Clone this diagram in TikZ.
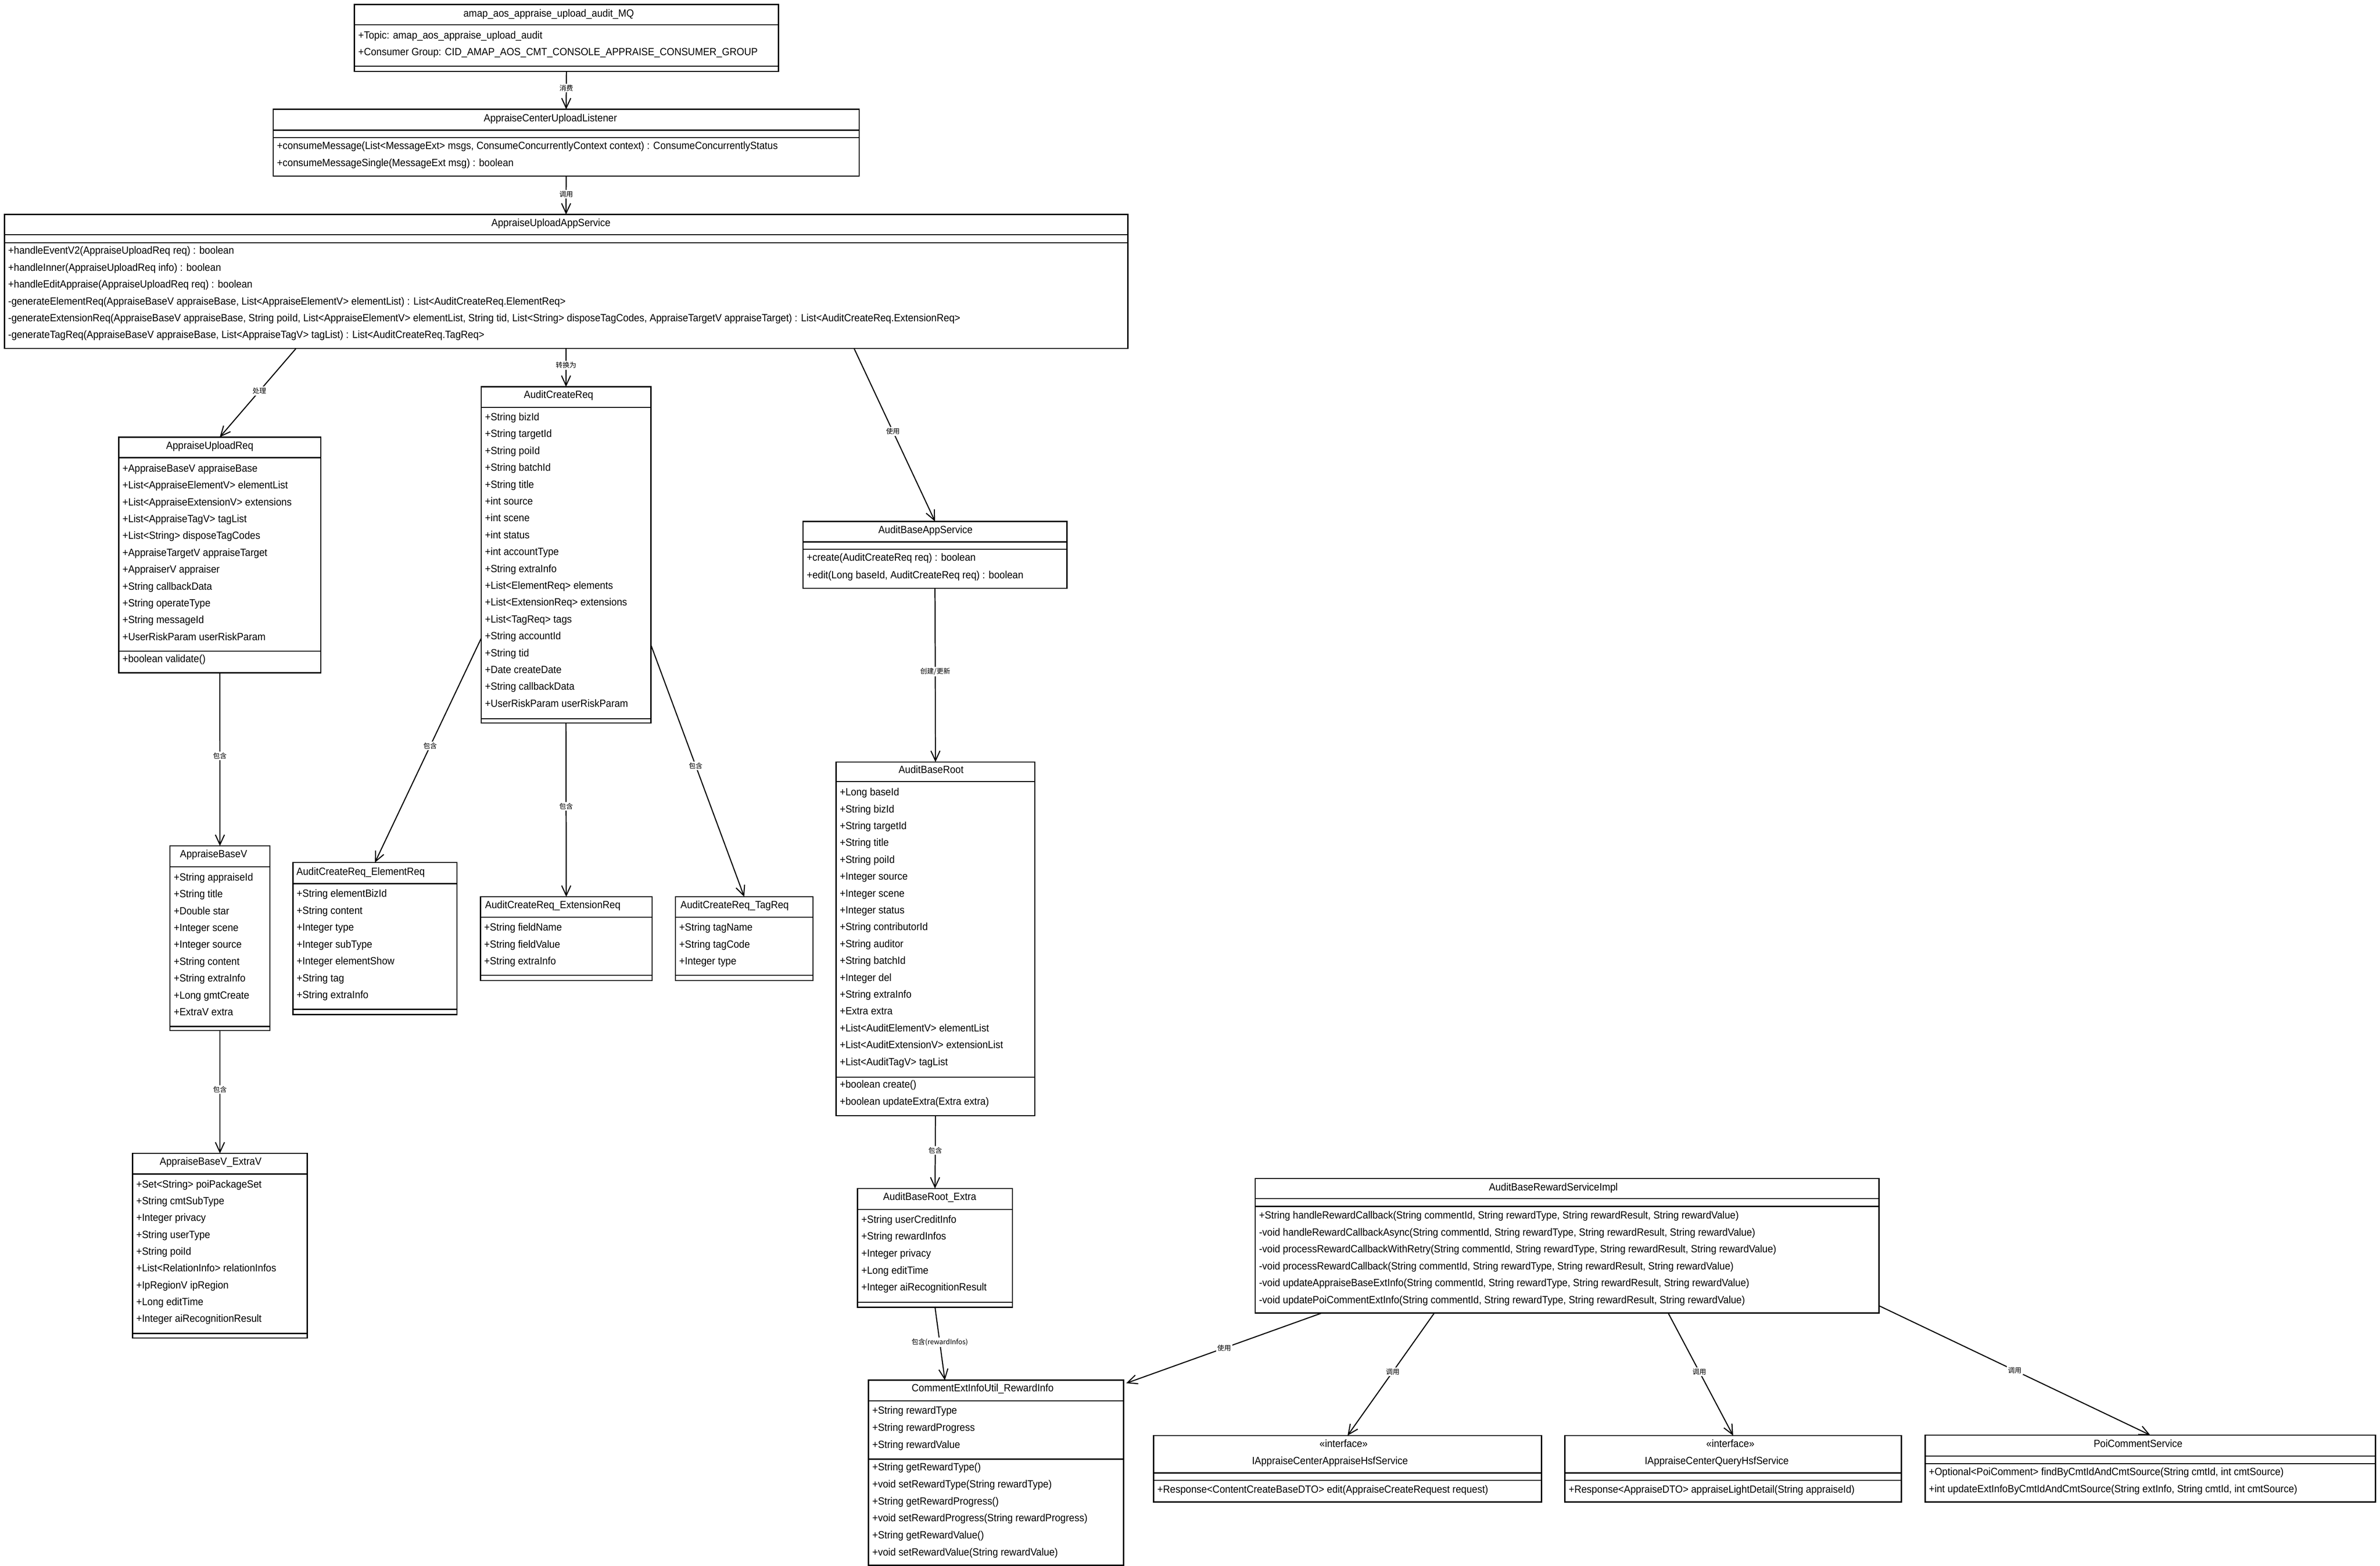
\documentclass[tikz,border=0pt]{standalone}
\usepackage{fontspec}
\setmainfont[FakeStretch=0.93]{Liberation Sans}
\newfontfamily\cjk{Noto Sans CJK SC}
\usetikzlibrary{arrows.meta,calc}
\tikzset{
  umlbox/.style={draw, line width=0.8pt, fill=white, rectangle, anchor=north west, inner sep=0pt, outer sep=0pt},
  sepline/.style={line width=0.7pt},
  txt/.style={anchor=west, inner sep=0pt, text height=4.9pt, text depth=0pt, font=\fontsize{6.9}{8}\selectfont},
  ttl/.style={anchor=center, inner sep=0pt, text height=4.9pt, text depth=0pt, font=\fontsize{6.9}{8}\selectfont},
  lbl/.style={fill=white, inner sep=0.8pt, pos=0.48, font=\cjk\fontsize{4.5}{5}\selectfont},
  conn/.style={line width=0.7pt, -{Straight Barb[length=6.5pt,width=6pt]}}
}
\newcommand\hsep[2]{\draw[sepline] ([yshift=-#2pt]#1.north west) -- ([yshift=-#2pt]#1.north east);}
\newcommand\rowsat[5]{\foreach \rowtext [count=\i from 0] in {#5} {\node[txt] (#1-\i) at ({#2},{#3+#4*\i}) {\rowtext};}}
\begin{document}
\begin{tikzpicture}[x=1pt,y=-1pt]
\useasboundingbox (0,0) rectangle (1568,1031.7);
\fill[white] (0,0) rectangle (1568,1031.7);

% ---------- MQ ----------
\node[umlbox, minimum width=279.3pt, minimum height=44pt] (mq) at (233.5,3) {};
\hsep{mq}{13.4}\hsep{mq}{40.6}
\node[ttl] (mq-t) at (361.5,8.6) {amap\_aos\_appraise\_upload\_audit\_MQ};
\rowsat{mq}{235.8}{23}{11}{{+Topic: amap\_aos\_appraise\_upload\_audit},{+Consumer Group: CID\_AMAP\_AOS\_CMT\_CONSOLE\_APPRAISE\_CONSUMER\_GROUP}}

% ---------- Listener ----------
\node[umlbox, minimum width=386pt, minimum height=44pt] (lis) at (180,72) {};
\hsep{lis}{13.8}\hsep{lis}{18.6}
\node[ttl] (lis-t) at (362.6,77.7) {AppraiseCenterUploadListener};
\rowsat{lis}{182.3}{96}{11}{{+consumeMessage(List<MessageExt> msgs, ConsumeConcurrentlyContext context) : ConsumeConcurrentlyStatus},{+consumeMessageSingle(MessageExt msg) : boolean}}

% ---------- AppraiseUploadAppService ----------
\node[umlbox, minimum width=740.1pt, minimum height=88.3pt] (app) at (2.9,141.3) {};
\hsep{app}{13.2}\hsep{app}{18.7}
\node[ttl] (app-t) at (363,146.8) {AppraiseUploadAppService};
\rowsat{app}{5.2}{165}{11.1}{{+handleEventV2(AppraiseUploadReq req) : boolean},{+handleInner(AppraiseUploadReq info) : boolean},{+handleEditAppraise(AppraiseUploadReq req) : boolean},{-generateElementReq(AppraiseBaseV appraiseBase, List<AppraiseElementV> elementList) : List<AuditCreateReq.ElementReq>},{-generateExtensionReq(AppraiseBaseV appraiseBase, String poiId, List<AppraiseElementV> elementList, String tid, List<String> disposeTagCodes, AppraiseTargetV appraiseTarget) : List<AuditCreateReq.ExtensionReq>},{-generateTagReq(AppraiseBaseV appraiseBase, List<AppraiseTagV> tagList) : List<AuditCreateReq.TagReq>}}

% ---------- AppraiseUploadReq ----------
\node[umlbox, minimum width=133.2pt, minimum height=155.3pt] (aur) at (78.2,288) {};
\hsep{aur}{13.5}\hsep{aur}{141}
\node[ttl] (aur-t) at (138.2,293.5) {AppraiseUploadReq};
\rowsat{aur}{80.5}{308.4}{11.1}{{+AppraiseBaseV appraiseBase},{+List<AppraiseElementV> elementList},{+List<AppraiseExtensionV> extensions},{+List<AppraiseTagV> tagList},{+List<String> disposeTagCodes},{+AppraiseTargetV appraiseTarget},{+AppraiserV appraiser},{+String callbackData},{+String operateType},{+String messageId},{+UserRiskParam userRiskParam}}
\node[txt] (aur-m) at (80.5,434) {+boolean validate()};

% ---------- AuditCreateReq ----------
\node[umlbox, minimum width=111.8pt, minimum height=221.6pt] (acr) at (317,254.8) {};
\hsep{acr}{13.7}\hsep{acr}{218.7}
\node[ttl] (acr-t) at (368,260) {AuditCreateReq};
\rowsat{acr}{319.3}{274.6}{11.1}{{+String bizId},{+String targetId},{+String poiId},{+String batchId},{+String title},{+int source},{+int scene},{+int status},{+int accountType},{+String extraInfo},{+List<ElementReq> elements},{+List<ExtensionReq> extensions},{+List<TagReq> tags},{+String accountId},{+String tid},{+Date createDate},{+String callbackData},{+UserRiskParam userRiskParam}}

% ---------- AuditBaseAppService ----------
\node[umlbox, minimum width=174pt, minimum height=44.1pt] (abas) at (529,343.5) {};
\hsep{abas}{13.5}\hsep{abas}{18.5}
\node[ttl] (abas-t) at (609.7,349) {AuditBaseAppService};
\rowsat{abas}{531.3}{367}{11.6}{{+create(AuditCreateReq req) : boolean},{+edit(Long baseId, AuditCreateReq req) : boolean}}

% ---------- AuditBaseRoot ----------
\node[umlbox, minimum width=131pt, minimum height=233pt] (abr) at (550.8,502) {};
\hsep{abr}{13}\hsep{abr}{207.7}
\node[ttl] (abr-t) at (613.4,507) {AuditBaseRoot};
\rowsat{abr}{553.1}{521.8}{11.1}{{+Long baseId},{+String bizId},{+String targetId},{+String title},{+String poiId},{+Integer source},{+Integer scene},{+Integer status},{+String contributorId},{+String auditor},{+String batchId},{+Integer del},{+String extraInfo},{+Extra extra},{+List<AuditElementV> elementList},{+List<AuditExtensionV> extensionList},{+List<AuditTagV> tagList}}
\rowsat{abrm}{553.1}{714.4}{11.3}{{+boolean create()},{+boolean updateExtra(Extra extra)}}

% ---------- AppraiseBaseV ----------
\node[umlbox, minimum width=65.8pt, minimum height=121.7pt] (abv) at (112,557.3) {};
\hsep{abv}{13.7}\hsep{abv}{119}
\node[ttl] (abv-t) at (140.7,562.6) {AppraiseBaseV};
\rowsat{abv}{114.3}{577.8}{11.1}{{+String appraiseId},{+String title},{+Double star},{+Integer scene},{+Integer source},{+String content},{+String extraInfo},{+Long gmtCreate},{+ExtraV extra}}

% ---------- AppraiseBaseV_ExtraV ----------
\node[umlbox, minimum width=115.2pt, minimum height=121.6pt] (exv) at (87.3,759.9) {};
\hsep{exv}{13.6}\hsep{exv}{118.6}
\node[ttl] (exv-t) at (138.8,765) {AppraiseBaseV\_ExtraV};
\rowsat{exv}{89.6}{780}{11.08}{{+Set<String> poiPackageSet},{+String cmtSubType},{+Integer privacy},{+String userType},{+String poiId},{+List<RelationInfo> relationInfos},{+IpRegionV ipRegion},{+Long editTime},{+Integer aiRecognitionResult}}

% ---------- AuditCreateReq_ElementReq ----------
\node[umlbox, minimum width=108pt, minimum height=100.1pt] (er) at (193,568.3) {};
\hsep{er}{13.9}\hsep{er}{96.7}
\node[ttl] (er-t) at (237.6,574.2) {AuditCreateReq\_ElementReq};
\rowsat{er}{195.3}{588.5}{11.15}{{+String elementBizId},{+String content},{+Integer type},{+Integer subType},{+Integer elementShow},{+String tag},{+String extraInfo}}

% ---------- AuditCreateReq_ExtensionReq ----------
\node[umlbox, minimum width=113.1pt, minimum height=55.2pt] (xr) at (316.5,590.8) {};
\hsep{xr}{13.5}\hsep{xr}{51.7}
\node[ttl] (xr-t) at (364.2,596) {AuditCreateReq\_ExtensionReq};
\rowsat{xr}{318.8}{610.9}{11.1}{{+String fieldName},{+String fieldValue},{+String extraInfo}}

% ---------- AuditCreateReq_TagReq ----------
\node[umlbox, minimum width=90.6pt, minimum height=55.2pt] (tr) at (445,590.8) {};
\hsep{tr}{13.5}\hsep{tr}{51.7}
\node[ttl] (tr-t) at (484,596) {AuditCreateReq\_TagReq};
\rowsat{tr}{447.3}{610.9}{11.1}{{+String tagName},{+String tagCode},{+Integer type}}

% ---------- AuditBaseRoot_Extra ----------
\node[umlbox, minimum width=102pt, minimum height=78.2pt] (ex) at (565,783) {};
\hsep{ex}{13.8}\hsep{ex}{75}
\node[ttl] (ex-t) at (612.5,788.3) {AuditBaseRoot\_Extra};
\rowsat{ex}{567.3}{803.2}{11.2}{{+String userCreditInfo},{+String rewardInfos},{+Integer privacy},{+Long editTime},{+Integer aiRecognitionResult}}

% ---------- CommentExtInfoUtil_RewardInfo ----------
\node[umlbox, minimum width=168.1pt, minimum height=122pt] (ri) at (572.2,909.3) {};
\hsep{ri}{13.7}\hsep{ri}{52}
\node[ttl] (ri-t) at (647.4,914.3) {CommentExtInfoUtil\_RewardInfo};
\rowsat{ri}{574.5}{929.2}{11.2}{{+String rewardType},{+String rewardProgress},{+String rewardValue}}
\rowsat{rim}{574.5}{966.5}{11.2}{{+String getRewardType()},{+void setRewardType(String rewardType)},{+String getRewardProgress()},{+void setRewardProgress(String rewardProgress)},{+String getRewardValue()},{+void setRewardValue(String rewardValue)}}

% ---------- AuditBaseRewardServiceImpl ----------
\node[umlbox, minimum width=411pt, minimum height=88.5pt] (rsi) at (827,776.5) {};
\hsep{rsi}{13.1}\hsep{rsi}{18.3}
\node[ttl] (rsi-t) at (1023.4,782) {AuditBaseRewardServiceImpl};
\rowsat{rsi}{829.3}{800.6}{11.12}{{+String handleRewardCallback(String commentId, String rewardType, String rewardResult, String rewardValue)},{-void handleRewardCallbackAsync(String commentId, String rewardType, String rewardResult, String rewardValue)},{-void processRewardCallbackWithRetry(String commentId, String rewardType, String rewardResult, String rewardValue)},{-void processRewardCallback(String commentId, String rewardType, String rewardResult, String rewardValue)},{-void updateAppraiseBaseExtInfo(String commentId, String rewardType, String rewardResult, String rewardValue)},{-void updatePoiCommentExtInfo(String commentId, String rewardType, String rewardResult, String rewardValue)}}

% ---------- IAppraiseCenterAppraiseHsfService ----------
\node[umlbox, minimum width=255.6pt, minimum height=43.8pt] (ia) at (760,945.8) {};
\hsep{ia}{24.6}\hsep{ia}{29.4}
\node[ttl] (ia-s) at (885.2,951) {«interface»};
\node[ttl] (ia-t) at (876.2,962.2) {IAppraiseCenterAppraiseHsfService};
\node[txt] (ia-m) at (762.3,981) {+Response<ContentCreateBaseDTO> edit(AppraiseCreateRequest request)};

% ---------- IAppraiseCenterQueryHsfService ----------
\node[umlbox, minimum width=221.6pt, minimum height=43.8pt] (iq) at (1031,945.8) {};
\hsep{iq}{24.6}\hsep{iq}{29.4}
\node[ttl] (iq-s) at (1140,951) {«interface»};
\node[ttl] (iq-t) at (1131,962.2) {IAppraiseCenterQueryHsfService};
\node[txt] (iq-m) at (1033.3,981) {+Response<AppraiseDTO> appraiseLightDetail(String appraiseId)};

% ---------- PoiCommentService ----------
\node[umlbox, minimum width=296.7pt, minimum height=44.1pt] (poi) at (1268.3,945.5) {};
\hsep{poi}{13.9}\hsep{poi}{18.8}
\node[ttl] (poi-t) at (1408.6,951) {PoiCommentService};
\rowsat{poi}{1270.6}{969.5}{11.2}{{+Optional<PoiComment> findByCmtIdAndCmtSource(String cmtId, int cmtSource)},{+int updateExtInfoByCmtIdAndCmtSource(String extInfo, String cmtId, int cmtSource)}}

% ---------- connectors ----------
\draw[conn] (mq.south) -- node[lbl,pos=0.44] {消费} (lis.north);
\draw[conn] (lis.south) -- node[lbl,pos=0.47] {调用} (app.north);
\draw[conn] ($(app.south west)+(192.1,0)$) -- node[lbl] {处理} (aur.north);
\draw[conn] (app.south) -- node[lbl,pos=0.44] {转换为} (acr.north);
\draw[conn] ($(app.south west)+(559.8,0)$) -- node[lbl] {使用} (abas.north);
\draw[conn] (aur.south) -- node[lbl] {包含} (abv.north);
\draw[conn] (abv.south) -- node[lbl] {包含} (exv.north);
\draw[conn] ($(acr.north west)+(0,165.8)$) -- node[lbl] {包含} (er.north);
\draw[conn] (acr.south) -- node[lbl] {包含} (xr.north);
\draw[conn] ($(acr.north east)+(0,170)$) -- node[lbl] {包含} (tr.north);
\draw[conn] (abas.south) -- node[lbl] {创建/更新} (abr.north);
\draw[conn] (abr.south) -- node[lbl] {包含} (ex.north);
\draw[conn] (ex.south) -- node[lbl] {包含(rewardInfos)} ($(ri.north west)+(50.3,0)$);
\draw[conn] ($(rsi.south west)+(44,0)$) -- node[lbl,pos=0.5] {使用} ($(ri.north east)+(1.7,2)$);
\draw[conn] ($(rsi.south west)+(118,0)$) -- node[lbl] {调用} (ia.north);
\draw[conn] ($(rsi.south west)+(272,0)$) -- node[lbl] {调用} (iq.north);
\draw[conn] ($(rsi.south east)+(0,-4.7)$) -- node[lbl,pos=0.5] {调用} (poi.north);
\end{tikzpicture}
\end{document}
